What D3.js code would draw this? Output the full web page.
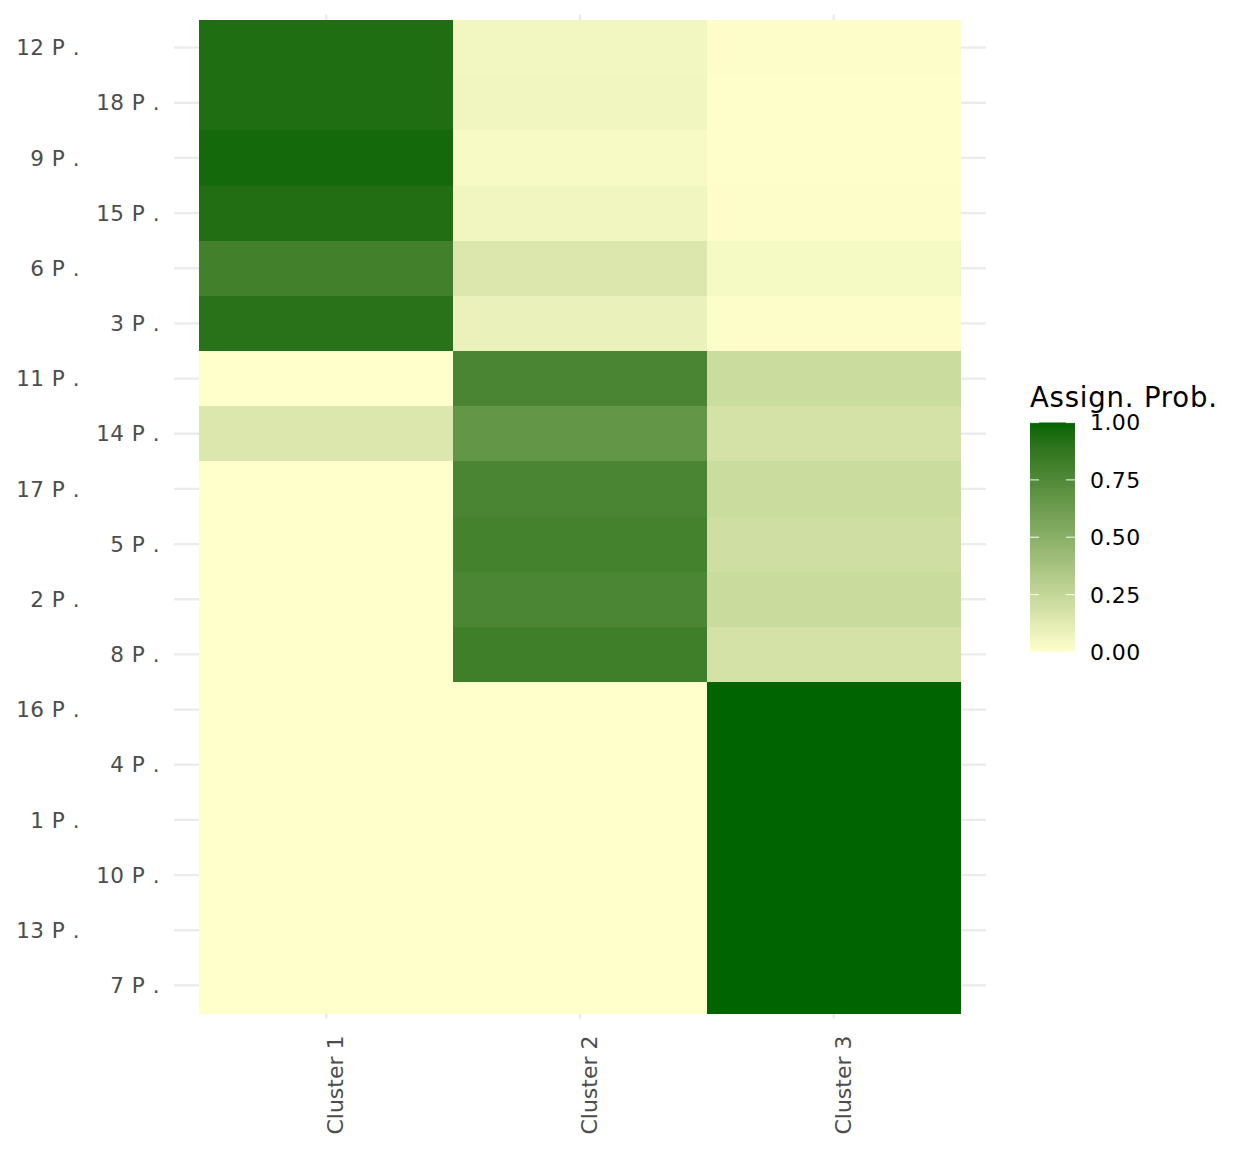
<!DOCTYPE html>
<html lang="en">
<head>
<meta charset="UTF-8" />
<title>Assign. Prob. heatmap</title>
<script src="https://cdn.jsdelivr.net/npm/d3@7/dist/d3.min.js"></script>
<style>
  body { margin: 0; background: #fff; }
  svg { display: block; font-family: "DejaVu Sans", sans-serif; }
</style>
</head>
<body>
<svg id="chart" width="1248" height="1152"></svg>
<script>
// rows from top to bottom
const rows = ['12 P .', '18 P .', '9 P .', '15 P .', '6 P .', '3 P .',
  '11 P .', '14 P .', '17 P .', '5 P .', '2 P .', '8 P .',
  '16 P .', '4 P .', '1 P .', '10 P .', '13 P .', '7 P .'];
const clusters = ['Cluster 1', 'Cluster 2', 'Cluster 3'];
const cluster1 = [0.935, 0.935, 0.965, 0.93, 0.81, 0.905, 0, 0.15, 0, 0, 0, 0, 0, 0, 0, 0, 0, 0];
const cluster2 = [0.055, 0.06, 0.03, 0.06, 0.15, 0.085, 0.78, 0.67, 0.78, 0.80, 0.775, 0.82, 0, 0, 0, 0, 0, 0];
const cluster3 = [0.01, 0.005, 0.005, 0.01, 0.04, 0.01, 0.22, 0.18, 0.22, 0.20, 0.225, 0.18, 1, 1, 1, 1, 1, 1];
const legendTicks = [0, 0.25, 0.5, 0.75, 1];

const cells = [];
[cluster1, cluster2, cluster3].forEach((vals, ci) => {
  vals.forEach((v, ri) => cells.push({ row: rows[ri], cluster: clusters[ci], value: v }));
});

const svg = d3.select('#chart');
svg.append('rect').attr('width', 1248).attr('height', 1152).attr('fill', '#fff');

// tile area, panel gets 0.1 step of expansion around it
const tileL = 199.4, tileR = 960.6, tileT = 20, tileB = 1013;
const x = d3.scaleBand().domain(clusters).range([tileL, tileR]);
const y = d3.scaleBand().domain(rows).range([tileT, tileB]);
const exX = x.step() * 0.1, exY = y.step() * 0.1;
const panel = { l: tileL - exX, r: tileR + exX, t: tileT - exY, b: tileB + exY };

const color = d3.scaleLinear().domain([0, 1])
  .range(['#FFFFCC', '#006400']).interpolate(d3.interpolateLab);

// grid
const grid = svg.append('g').attr('stroke', '#EBEBEB').attr('stroke-width', 2.4);
grid.selectAll('.gy').data(rows).enter().append('line')
  .attr('x1', panel.l).attr('x2', panel.r)
  .attr('y1', d => y(d) + y.bandwidth() / 2).attr('y2', d => y(d) + y.bandwidth() / 2);
grid.selectAll('.gx').data(clusters).enter().append('line')
  .attr('y1', panel.t).attr('y2', panel.b)
  .attr('x1', d => x(d) + x.bandwidth() / 2).attr('x2', d => x(d) + x.bandwidth() / 2);

// tiles
svg.append('g').attr('shape-rendering', 'crispEdges')
  .selectAll('rect').data(cells).enter().append('rect')
  .attr('x', d => x(d.cluster))
  .attr('y', d => y(d.row))
  .attr('width', x.bandwidth() + 0.5)
  .attr('height', y.bandwidth() + 0.5)
  .attr('fill', d => color(d.value));

// y axis, labels dodged over two columns
const yAxisG = svg.append('g').attr('fill', '#4D4D4D')
  .attr('font-size', 21.5).attr('letter-spacing', 0.5);
yAxisG.selectAll('text').data(rows).enter().append('text')
  .attr('x', (d, i) => ((rows.length - 1 - i) % 2 === 0 ? 160 : 80))
  .attr('y', d => y(d) + y.bandwidth() / 2)
  .attr('dy', '0.36em')
  .attr('text-anchor', 'end')
  .text(d => d);

// x axis, rotated labels sitting just right of the grid line
const xAxisG = svg.append('g').attr('fill', '#4D4D4D').attr('font-size', 22);
xAxisG.selectAll('text').data(clusters).enter().append('text')
  .attr('transform', d => `translate(${x(d) + x.bandwidth() / 2 + 17}, ${panel.b + 17}) rotate(-90)`)
  .attr('text-anchor', 'end')
  .text(d => d);

// legend
const lg = { x: 1030, top: 422.5, bottom: 652, w: 45 };
const defs = svg.append('defs');
const grad = defs.append('linearGradient').attr('id', 'lgrad')
  .attr('x1', 0).attr('y1', 1).attr('x2', 0).attr('y2', 0);
d3.range(0, 1.0001, 0.02).forEach(t => {
  grad.append('stop').attr('offset', t).attr('stop-color', color(t));
});
const legend = svg.append('g');
legend.append('text')
  .attr('x', 1030).attr('y', 406.5)
  .attr('font-size', 27.5).attr('letter-spacing', 0.8).attr('fill', '#000')
  .text('Assign. Prob.');
legend.append('rect')
  .attr('x', lg.x).attr('y', lg.top)
  .attr('width', lg.w).attr('height', lg.bottom - lg.top)
  .attr('fill', 'url(#lgrad)');
const ly = d3.scaleLinear().domain([0, 1]).range([lg.bottom, lg.top]);
const tickG = legend.append('g').attr('stroke', '#fff').attr('stroke-width', 1.2).attr('opacity', 0.8);
legendTicks.forEach(t => {
  tickG.append('line').attr('x1', lg.x).attr('x2', lg.x + 9).attr('y1', ly(t)).attr('y2', ly(t));
  tickG.append('line').attr('x1', lg.x + lg.w - 9).attr('x2', lg.x + lg.w).attr('y1', ly(t)).attr('y2', ly(t));
});
legend.selectAll('.lt').data(legendTicks).enter().append('text')
  .attr('x', 1090).attr('y', d => ly(d))
  .attr('dy', '0.36em')
  .attr('font-size', 22).attr('letter-spacing', 0.4).attr('fill', '#000')
  .text(d => d3.format('.2f')(d));
</script>
</body>
</html>
